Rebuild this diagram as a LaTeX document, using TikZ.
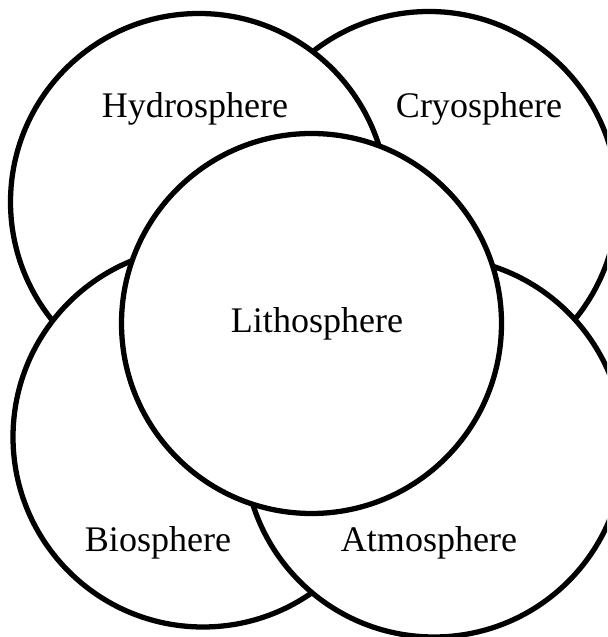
\documentclass[tikz,border=0pt]{standalone}
\usepackage{fontspec}
\setmainfont{Liberation Serif}
\usepackage{tikz}
\usetikzlibrary{positioning}

\begin{document}
\begin{tikzpicture}[
    sphere_circle/.style={circle, draw=black, line width=3pt, fill=white, minimum size=7.54cm, inner sep=0pt},
    sphere_label/.style={font=\fontsize{20.5}{24}\selectfont, anchor=base, inner sep=0pt}
]
\useasboundingbox (0,0) rectangle (12.14,12.74);
\clip (0,0) rectangle (12.14,12.74);
% back to front
\node[sphere_circle] (cryo)  at (8.58,8.74) {};
\node[sphere_circle] (hydro) at (3.98,8.70) {};
\node[sphere_circle, minimum size=7.6cm] (bio)   at (4.06,4.00) {};
\node[sphere_circle, minimum size=7.6cm] (atmos) at (8.68,3.80) {};
\node[sphere_circle, minimum size=7.6cm] (litho) at (6.23,6.27) {};
% labels
\node[sphere_label] (hydro_text) at (3.90,10.38) {Hydrosphere};
\node[sphere_label] (cryo_text)  at (9.58,10.38) {Cryosphere};
\node[sphere_label] (litho_text) at (6.34,6.08)  {Lithosphere};
\node[sphere_label] (bio_text)   at (3.16,1.70)  {Biosphere};
\node[sphere_label] (atmos_text) at (8.58,1.70)  {Atmosphere};
\end{tikzpicture}
\end{document}
